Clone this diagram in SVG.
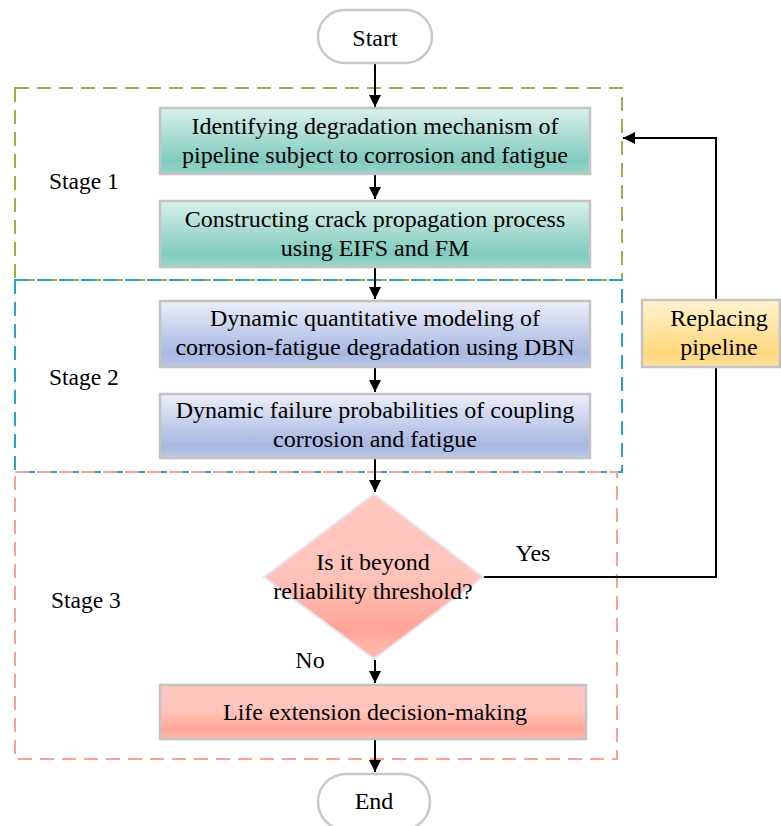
<svg xmlns="http://www.w3.org/2000/svg" width="781" height="826" viewBox="0 0 781 826">
<defs>
<linearGradient id="gTeal" x1="0" y1="0" x2="0" y2="1">
<stop offset="0" stop-color="#d9f0eb"/><stop offset="0.8" stop-color="#80cbbd"/><stop offset="1" stop-color="#9ad6ca"/>
</linearGradient>
<linearGradient id="gBlue" x1="0" y1="0" x2="0" y2="1">
<stop offset="0" stop-color="#eceef9"/><stop offset="0.8" stop-color="#a8b7e1"/><stop offset="1" stop-color="#bcc8ea"/>
</linearGradient>
<linearGradient id="gRed" x1="0" y1="0" x2="0" y2="1">
<stop offset="0" stop-color="#ffc7bf"/><stop offset="0.5" stop-color="#ffc3ba"/><stop offset="0.82" stop-color="#ffa597"/><stop offset="1" stop-color="#ffbdb2"/>
</linearGradient>
<linearGradient id="gYel" x1="0" y1="0" x2="0" y2="1">
<stop offset="0" stop-color="#fff3d0"/><stop offset="0.8" stop-color="#ffd77c"/><stop offset="1" stop-color="#ffe3a0"/>
</linearGradient>
<marker id="ah" viewBox="0 0 12 12" refX="12" refY="6" markerWidth="12" markerHeight="12" markerUnits="userSpaceOnUse" orient="auto">
<path d="M0,0 L12,6 L0,12 z" fill="#000"/>
</marker>
</defs>
<style>
text{font-family:"Liberation Serif","Times New Roman",serif;font-size:24px;fill:#000;text-anchor:middle}
.lbl{text-anchor:start;font-size:23.5px}
.box{stroke:#c4c4c4;stroke-width:2.5}
.term{fill:#fff;stroke:#c8c8c8;stroke-width:2.5}
.line{fill:none;stroke:#000;stroke-width:2;marker-end:url(#ah)}
.dash{fill:none;stroke-width:2;stroke-dasharray:14,8}
</style>
<g id="stages">
<rect class="dash" x="15" y="88" width="607" height="192" stroke="#9bab4e"/>
<rect class="dash" x="15" y="280" width="607" height="192" stroke="#2b9fc6"/>
<rect class="dash" x="15" y="472" width="602" height="287" stroke="#f7a197"/>
<text class="lbl" x="49" y="189">Stage 1</text>
<text class="lbl" x="49" y="385">Stage 2</text>
<text class="lbl" x="51" y="608">Stage 3</text>
</g>
<g id="connectors">
<line class="line" x1="375" y1="64" x2="375" y2="107"/>
<line class="line" x1="375" y1="175" x2="375" y2="199"/>
<line class="line" x1="375" y1="268" x2="375" y2="299"/>
<line class="line" x1="375" y1="368" x2="375" y2="392"/>
<line class="line" x1="375" y1="459" x2="375" y2="492"/>
<line class="line" x1="375" y1="660" x2="375" y2="683"/>
<line class="line" x1="375" y1="740" x2="375" y2="772"/>
<polyline class="line" points="482,577 716,577 716,138 623,138"/>
<text x="533" y="561">Yes</text>
<text x="310" y="668">No</text>
</g>
<g id="start">
<rect class="term" x="318" y="10" width="114" height="53" rx="26.5"/>
<text x="375" y="46">Start</text>
</g>
<g id="n1">
<rect class="box" x="160" y="108" width="430" height="66" fill="url(#gTeal)"/>
<text x="375" y="134">Identifying degradation mechanism of</text>
<text x="375" y="163">pipeline subject to corrosion and fatigue</text>
</g>
<g id="n2">
<rect class="box" x="160" y="201" width="430" height="66" fill="url(#gTeal)"/>
<text x="375" y="227">Constructing crack propagation process</text>
<text x="375" y="256">using EIFS and FM</text>
</g>
<g id="n3">
<rect class="box" x="160" y="301" width="430" height="66" fill="url(#gBlue)"/>
<text x="375" y="326">Dynamic quantitative modeling of</text>
<text x="375" y="355">corrosion-fatigue degradation using DBN</text>
</g>
<g id="n4">
<rect class="box" x="160" y="394" width="430" height="64" fill="url(#gBlue)"/>
<text x="375" y="418">Dynamic failure probabilities of coupling</text>
<text x="375" y="447">corrosion and fatigue</text>
</g>
<g id="decision">
<polygon points="374,494 483,577 374,659 264,577" fill="url(#gRed)" stroke="#e6e6f4" stroke-width="2"/>
<text x="373" y="570">Is it beyond</text>
<text x="373" y="599">reliability threshold?</text>
</g>
<g id="n5">
<rect class="box" x="160" y="685" width="426" height="54" fill="url(#gRed)"/>
<text x="375" y="720">Life extension decision-making</text>
</g>
<g id="replace">
<rect class="box" x="642" y="300" width="138" height="67" fill="url(#gYel)"/>
<text x="719" y="326">Replacing</text>
<text x="719" y="355">pipeline</text>
</g>
<g id="end">
<rect class="term" x="318" y="774" width="112" height="56" rx="28"/>
<text x="374" y="809">End</text>
</g>
</svg>
